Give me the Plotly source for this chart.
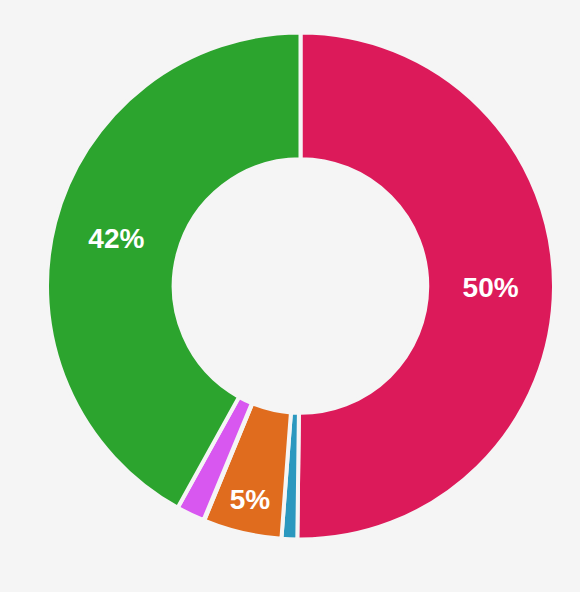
import plotly.graph_objects as go

labels = ["A", "B", "C", "D", "E", "F"]
values = [50.2, 1.0, 5.0, 0.05, 1.8, 41.95]
colors = ["#DC1A5A", "#2B98BF", "#E06C1E", "#2A7A3A", "#D857F0", "#2CA42E"]

total = sum(values)
texts = [f"{round(v / total * 100)}%" if v / total >= 0.03 else "" for v in values]

fig = go.Figure(go.Pie(
    labels=labels,
    values=values,
    text=texts,
    textinfo="text",
    textposition="inside",
    insidetextorientation="horizontal",
    hole=0.5,
    sort=False,
    direction="clockwise",
    marker=dict(colors=colors, line=dict(color="#F5F5F5", width=4)),
    textfont=dict(family="Liberation Sans", size=28, color="white", weight="bold"),
))

fig.update_layout(
    width=580,
    height=592,
    paper_bgcolor="#F5F5F5",
    plot_bgcolor="#F5F5F5",
    showlegend=False,
    margin=dict(l=47, r=26, t=31, b=51),
)

# drop the page margin so the figure fills the window
fig.write_html(
    "out.html",
    config={"displayModeBar": False},
    post_script="document.body.style.margin='0';document.body.style.background='#F5F5F5';",
)
